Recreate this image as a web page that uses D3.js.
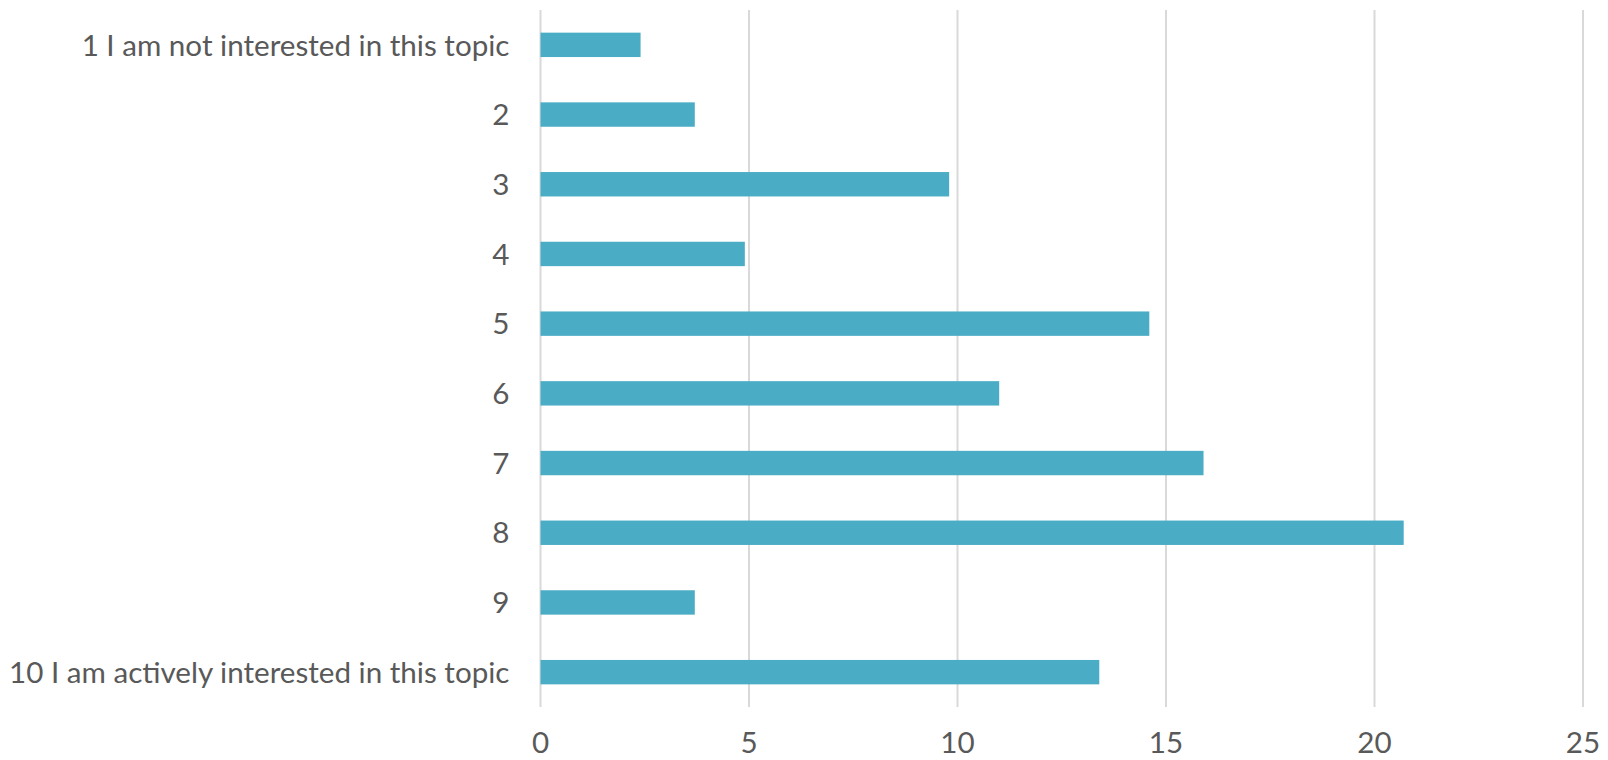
<!DOCTYPE html>
<html>
<head>
<meta charset="utf-8">
<script src="https://cdn.jsdelivr.net/npm/d3@7"></script>
<style>
    body { margin: 0; background: #fff; }
    svg { display: block; }
    .label { font-family: Lato, "Open Sans", sans-serif; fill: #595959; }
</style>
</head>
<body>
<div id="chart"></div>
<script>
// categories top to bottom, values are shares in percent
const categories = [
    "1 I am not interested in this topic", "2", "3", "4", "5",
    "6", "7", "8", "9", "10 I am actively interested in this topic"
];
const values = [2.4, 3.7, 9.8, 4.9, 14.6, 11.0, 15.9, 20.7, 3.7, 13.4];
const xTicks = [0, 5, 10, 15, 20, 25];

const width = 1608, height = 760;
const margin = { top: 10, right: 25, bottom: 53, left: 540.5 };

const svg = d3.select("#chart")
    .append("svg")
    .attr("width", width)
    .attr("height", height);

const x = d3.scaleLinear()
    .domain([0, 25])
    .range([margin.left, width - margin.right]);

const y = d3.scaleBand()
    .domain(categories)
    .range([margin.top, height - margin.bottom])
    .paddingInner(0.65)
    .paddingOuter(0.325);

// vertical gridlines
svg.append("g")
    .selectAll("line")
    .data(xTicks)
    .join("line")
    .attr("x1", d => x(d))
    .attr("x2", d => x(d))
    .attr("y1", margin.top)
    .attr("y2", height - margin.bottom)
    .attr("stroke", "#d9d9d9")
    .attr("stroke-width", 2);

// bars
svg.append("g")
    .selectAll("rect")
    .data(values)
    .join("rect")
    .attr("x", x(0))
    .attr("y", (d, i) => y(categories[i]))
    .attr("width", d => x(d) - x(0))
    .attr("height", y.bandwidth())
    .attr("fill", "#4bacc6");

// category labels
svg.append("g")
    .selectAll("text")
    .data(categories)
    .join("text")
    .attr("class", "label")
    .attr("x", margin.left - 31)
    .attr("y", d => y(d) + y.bandwidth() / 2)
    .attr("dy", "0.36em")
    .attr("text-anchor", "end")
    .style("font-size", "29.6px")
    .text(d => d);

// value axis tick labels
svg.append("g")
    .selectAll("text")
    .data(xTicks)
    .join("text")
    .attr("class", "label")
    .attr("x", d => x(d))
    .attr("y", 753)
    .attr("text-anchor", "middle")
    .style("font-size", "29.6px")
    .text(d => d);
</script>
</body>
</html>
